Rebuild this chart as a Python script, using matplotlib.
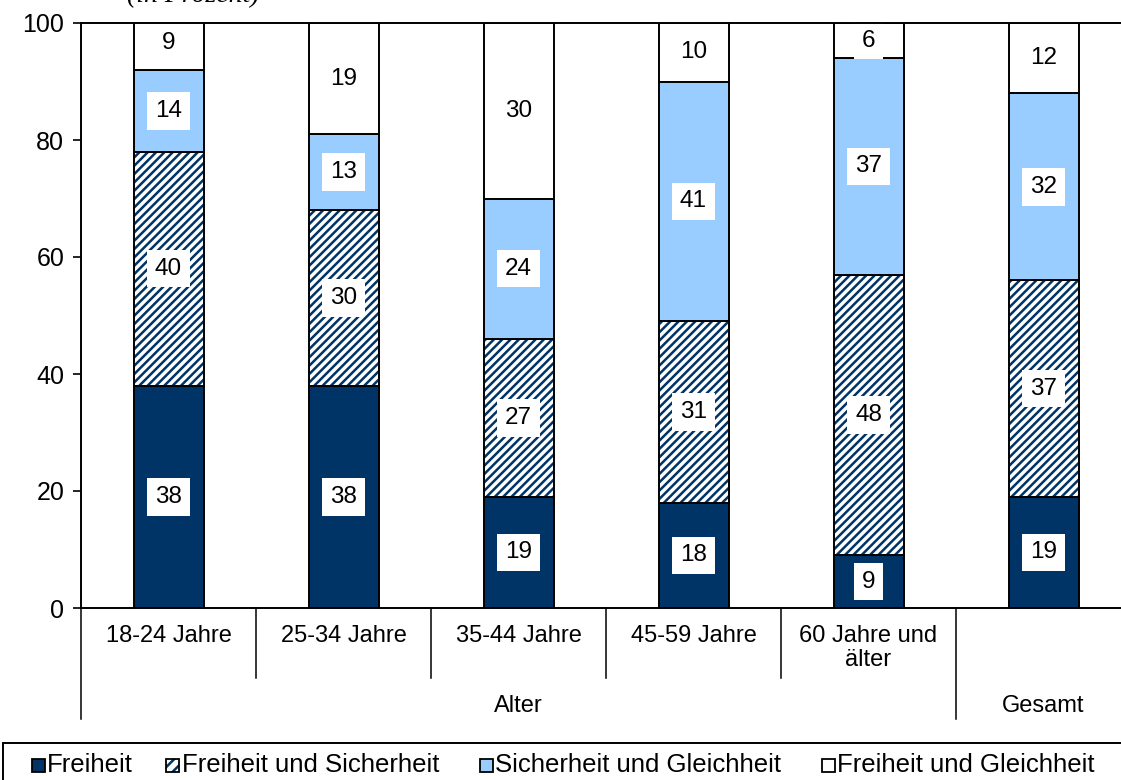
import matplotlib
matplotlib.use("Agg")
import matplotlib.pyplot as plt
from matplotlib.patches import Rectangle

plt.rcParams["font.family"] = ["Liberation Sans", "DejaVu Sans"]
plt.rcParams["hatch.linewidth"] = 1.8

categories = ["18-24 Jahre", "25-34 Jahre", "35-44 Jahre", "45-59 Jahre", "60 Jahre und\nälter", ""]
group_labels = ["Alter", "Gesamt"]
series_names = ["Freiheit", "Freiheit und Sicherheit", "Sicherheit und Gleichheit", "Freiheit und Gleichheit"]
freiheit = [38, 38, 19, 18, 9, 19]
freiheit_sicherheit = [40, 30, 27, 31, 48, 37]
sicherheit_gleichheit = [14, 13, 24, 41, 37, 32]
freiheit_gleichheit = [9, 19, 30, 10, 6, 12]
yticks = [0, 20, 40, 60, 80, 100]

NAVY = "#003366"
LIGHT = "#99CCFF"
HATCH = "////"
series = [freiheit, freiheit_sicherheit, sicherheit_gleichheit, freiheit_gleichheit]
fills = [NAVY, "white", LIGHT, "white"]
hatches = [None, HATCH, None, None]

W, H = 1121, 780
fig = plt.figure(figsize=(W / 100, H / 100), dpi=100)
ax = fig.add_axes([81 / W, 1 - 608 / H, 1050 / W, 585 / H])

x = list(range(len(categories)))
width = 0.4
bottom = [0] * len(x)
for vals, fc, h in zip(series, fills, hatches):
    if h:
        ax.bar(x, vals, width, bottom=bottom, color="white", edgecolor=NAVY,
               hatch=h, linewidth=0)
        ax.bar(x, vals, width, bottom=bottom, fill=False, edgecolor="black", linewidth=1.4)
    else:
        ax.bar(x, vals, width, bottom=bottom, color=fc, edgecolor="black", linewidth=1.4)
    for xi, v, b in zip(x, vals, bottom):
        ax.text(xi, b + v / 2, str(v), ha="center", va="center", fontsize=17.5,
                bbox=dict(boxstyle="square,pad=0.32", fc="white", ec="none"),
                zorder=2, clip_on=True)
    bottom = [b + v for b, v in zip(bottom, vals)]

ax.set_xlim(-0.5, len(x) - 0.5)
ax.set_ylim(0, 100)
ax.set_yticks(yticks)
ax.tick_params(axis="y", labelsize=18, length=6, width=1.2, pad=6, direction="out")
ax.set_xticks([])
for s in ax.spines.values():
    s.set_linewidth(1.4)
    s.set_color("black")
    s.set_zorder(3)

# category labels and separators below the axis
for xi, lab in zip(x, categories):
    ax.text(xi, -2.9, lab, ha="center", va="top", fontsize=17, linespacing=1.1)
for sx in [0.5, 1.5, 2.5, 3.5]:
    ax.plot([sx, sx], [0, -12], color="black", lw=1.1, clip_on=False)
for sx in [-0.5, 4.5, 5.5]:
    ax.plot([sx, sx], [0, -19], color="black", lw=1.1, clip_on=False)
ax.text(2.0, -16.8, group_labels[0], ha="center", va="center", fontsize=17)
ax.text(5.0, -16.8, group_labels[1], ha="center", va="center", fontsize=17)

# title, cut at top edge
fig.text(193 / W, 1 - 2 / H, "(in Prozent)", ha="center", va="baseline",
         fontsize=20, family=["Liberation Serif", "DejaVu Serif"], style="italic")

# legend frame and entries
fig.patches.append(Rectangle((3 / W, -0.1), 1.2, 0.1 + (1 - 743 / H),
                             transform=fig.transFigure, fill=False,
                             edgecolor="black", linewidth=1.4))
sq = 13
handle_x = [32, 166, 480, 822]
text_x = [47, 182, 495, 837]
ly = 765
for name, fc, h, hx, tx in zip(series_names, fills, hatches, handle_x, text_x):
    if h:
        fig.patches.append(Rectangle((hx / W, 1 - (ly + sq / 2) / H), sq / W, sq / H,
                                     transform=fig.transFigure, facecolor="white",
                                     edgecolor=NAVY, hatch="///", linewidth=0))
        fig.patches.append(Rectangle((hx / W, 1 - (ly + sq / 2) / H), sq / W, sq / H,
                                     transform=fig.transFigure, fill=False,
                                     edgecolor="black", linewidth=1.3))
    else:
        fig.patches.append(Rectangle((hx / W, 1 - (ly + sq / 2) / H), sq / W, sq / H,
                                     transform=fig.transFigure, facecolor=fc,
                                     edgecolor="black", linewidth=1.3))
    fig.text(tx / W, 1 - ly / H, name, ha="left", va="center", fontsize=18.5)

fig.savefig("out.png", dpi=100)
